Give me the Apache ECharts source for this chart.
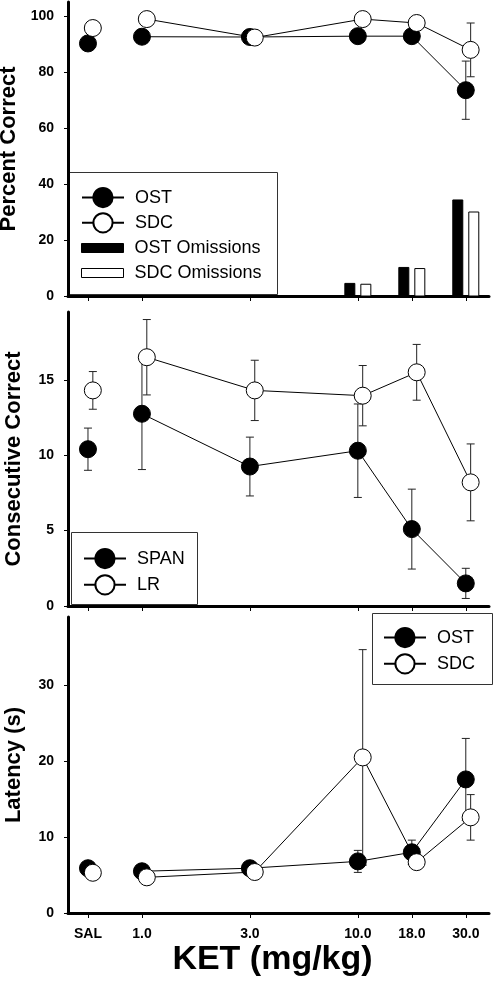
<!DOCTYPE html>
<html><head><meta charset="utf-8">
<script src="https://cdn.jsdelivr.net/npm/echarts@6/dist/echarts.min.js"></script>
<style>html,body{margin:0;padding:0;background:#fff}#c{width:494px;height:982px}</style>
</head><body><div id="c"></div>
<script>
// ---- data ----
const doseLabels = ['SAL', '1.0', '3.0', '10.0', '18.0', '30.0'];
const doseSlots = [0, 1, 3, 5, 6, 7];          // spacing of the dose groups on the original x axis
const pctTicks = [0, 20, 40, 60, 80, 100];
const consTicks = [0, 5, 10, 15];
const latTicks = [0, 10, 20, 30];

const ostPct = [90.2, 92.6, 92.5, 92.8, 92.8, 73.5];
const ostPctErr = [0, 0, 0, 0, 0, 10.4];
const sdcPct = [95.7, 98.9, 92.3, 98.9, 97.5, 87.9];
const sdcPctErr = [0, 0, 0, 0, 0, 9.6];
const ostOmit = [0, 0, 0, 4.5, 10.2, 34.3];
const sdcOmit = [0, 0, 0, 4.2, 9.8, 30.0];

const spanVal = [10.4, 12.75, 9.25, 10.3, 5.1, 1.5];
const spanErr = [1.4, 3.7, 1.95, 3.1, 2.65, 1.0];
const lrVal = [14.3, 16.5, 14.3, 13.95, 15.5, 8.2];
const lrErr = [1.25, 2.5, 2.0, 2.0, 1.85, 2.55];

const ostLat = [5.9, 5.5, 5.9, 6.8, 8.0, 17.6];
const ostLatErr = [0.3, 0.3, 0.3, 1.45, 1.6, 5.4];
const sdcLat = [5.3, 4.7, 5.4, 20.5, 6.7, 12.6];
const sdcLatErr = [0.3, 0.3, 0.3, 14.2, 0.5, 3.0];

// ---- helpers ----
const FONT = 'Liberation Sans, Arial, sans-serif';
const OPEN_SHIFT = 0.09;
const pts = (vals, shift, from) => vals.map((v, i) => [doseSlots[i] + shift, v]).slice(from);
const errPts = (vals, errs, shift) => vals.map((v, i) => [doseSlots[i] + shift, v, errs[i]]);

const filledStyle = { color: '#000', borderColor: '#000', borderWidth: 1, opacity: 1 };
const openStyle = { color: '#fff', borderColor: '#000', borderWidth: 1, opacity: 1 };

function lineSeries(name, vals, shift, style, ax, z) {
  return [
    { type: 'line', name, xAxisIndex: ax, yAxisIndex: ax, data: pts(vals, shift, 1),
      symbol: 'circle', symbolSize: 17, itemStyle: style,
      lineStyle: { color: '#000', width: 1 }, z, animation: false },
    { type: 'scatter', name, xAxisIndex: ax, yAxisIndex: ax, data: pts(vals, shift, 0).slice(0, 1),
      symbol: 'circle', symbolSize: 17, itemStyle: style, z, animation: false }
  ];
}
function errSeries(vals, errs, shift, ax) {
  return { type: 'custom', xAxisIndex: ax, yAxisIndex: ax, data: errPts(vals, errs, shift),
    encode: { x: 0, y: 1 }, z: 1, animation: false, silent: true,
    renderItem(params, api) {
      const x = api.value(0), y = api.value(1), e = api.value(2);
      if (!e) return null;
      const t = api.coord([x, y + e]), b = api.coord([x, y - e]);
      const st = { stroke: '#222', lineWidth: 1 };
      return { type: 'group', children: [
        { type: 'line', shape: { x1: t[0], y1: t[1], x2: b[0], y2: b[1] }, style: st },
        { type: 'line', shape: { x1: t[0] - 4, y1: t[1], x2: t[0] + 4, y2: t[1] }, style: st },
        { type: 'line', shape: { x1: b[0] - 4, y1: b[1], x2: b[0] + 4, y2: b[1] }, style: st }
      ]};
    } };
}
function barSeries(name, vals, offsetPx, fill) {
  return { type: 'custom', name, xAxisIndex: 0, yAxisIndex: 0,
    data: vals.map((v, i) => [doseSlots[i], v]), encode: { x: 0, y: 1 }, z: 2, animation: false,
    itemStyle: { color: fill, borderColor: '#000', borderWidth: 1 },
    renderItem(params, api) {
      const x = api.value(0), v = api.value(1);
      if (!v) return null;
      const top = api.coord([x, v]), base = api.coord([x, 0]);
      return { type: 'rect', shape: { x: top[0] + offsetPx - 5, y: top[1], width: 10, height: base[1] - top[1] },
        style: { fill, stroke: '#000', lineWidth: 1 } };
    } };
}

const grids = [
  { left: 68, width: 421, top: 2, height: 294, outerBoundsMode: 'none', containLabel: false },
  { left: 68, width: 421, top: 312, height: 294, outerBoundsMode: 'none', containLabel: false },
  { left: 68, width: 421, top: 617, height: 296, outerBoundsMode: 'none', containLabel: false }
];
function xAxis(i, showLabels) {
  return { type: 'value', gridIndex: i, min: -0.37, max: 7.43,
    axisLine: { show: true, onZero: false, lineStyle: { color: '#000', width: 3 } },
    axisTick: { show: true, inside: false, length: 5, customValues: doseSlots, lineStyle: { color: '#000', width: 1 } },
    axisLabel: { show: showLabels, customValues: doseSlots, margin: 14,
      formatter: v => doseLabels[doseSlots.indexOf(v)],
      fontFamily: FONT, fontWeight: 'bold', fontSize: 14, color: '#000' },
    splitLine: { show: false },
    name: showLabels ? 'KET (mg/kg)' : '', nameLocation: 'middle', nameGap: 30,
    nameTextStyle: { fontFamily: FONT, fontWeight: 'bold', fontSize: 34, color: '#000', padding: [0, 12, 0, 0] } };
}
function yAxis(i, max, ticks, name) {
  return { type: 'value', gridIndex: i, min: 0, max,
    axisLine: { show: true, onZero: false, lineStyle: { color: '#000', width: 3 } },
    axisTick: { show: true, length: 4, customValues: ticks, lineStyle: { color: '#000', width: 1 } },
    axisLabel: { customValues: ticks, margin: 14, fontFamily: FONT, fontWeight: 'bold', fontSize: 14, color: '#000' },
    splitLine: { show: false },
    name, nameLocation: 'middle', nameRotate: 90, nameGap: 43,
    nameTextStyle: { fontFamily: FONT, fontWeight: 'bold', fontSize: 22, color: '#000' } };
}
const legTxt = { fontFamily: FONT, fontSize: 18, color: '#000', padding: [0, 0, 0, 6] };
function legend(data, left, top, h, gap) {
  return { data, orient: 'vertical', left, top, itemWidth: 42, itemHeight: h, itemGap: gap,
    selectedMode: false, textStyle: legTxt, padding: 0 };
}

const option = {
  backgroundColor: '#fff',
  animation: false,
  grid: grids,
  xAxis: [xAxis(0, false), xAxis(1, false), xAxis(2, true)],
  yAxis: [yAxis(0, 105, pctTicks, 'Percent Correct'), yAxis(1, 19.5, consTicks, 'Consecutive Correct'), yAxis(2, 39, latTicks, 'Latency (s)')],
  legend: [
    legend(['OST', 'SDC'], 81, 187, 24, 4),
    legend([
      { name: 'OST Omissions', icon: 'rect', itemStyle: { color: '#000', borderColor: '#000', borderWidth: 1 } },
      { name: 'SDC Omissions', icon: 'rect', itemStyle: { color: '#fff', borderColor: '#000', borderWidth: 1 } }
    ], 81, 239, 9, 7),
    legend(['SPAN', 'LR'], 83, 548, 24, 5),
    legend(['OST', 'SDC'], 383, 627, 24, 5)
  ],
  graphic: [
    { type: 'rect', shape: { x: 69.5, y: 172.5, width: 208, height: 122 }, style: { fill: 'none', stroke: '#333', lineWidth: 1 }, z: 0 },
    { type: 'rect', shape: { x: 71.5, y: 532.5, width: 126, height: 72 }, style: { fill: 'none', stroke: '#333', lineWidth: 1 }, z: 0 },
    { type: 'rect', shape: { x: 372.5, y: 613.5, width: 120, height: 71 }, style: { fill: 'none', stroke: '#333', lineWidth: 1 }, z: 0 }
  ],
  series: [
    errSeries(ostPct, ostPctErr, 0, 0),
    errSeries(sdcPct, sdcPctErr, OPEN_SHIFT, 0),
    ...lineSeries('OST', ostPct, 0, filledStyle, 0, 2),
    ...lineSeries('SDC', sdcPct, OPEN_SHIFT, openStyle, 0, 3),
    barSeries('OST Omissions', ostOmit, -8, '#000'),
    barSeries('SDC Omissions', sdcOmit, 8, '#fff'),

    errSeries(spanVal, spanErr, 0, 1),
    errSeries(lrVal, lrErr, OPEN_SHIFT, 1),
    ...lineSeries('SPAN', spanVal, 0, filledStyle, 1, 2),
    ...lineSeries('LR', lrVal, OPEN_SHIFT, openStyle, 1, 3),

    errSeries(ostLat, ostLatErr, 0, 2),
    errSeries(sdcLat, sdcLatErr, OPEN_SHIFT, 2),
    ...lineSeries('OST', ostLat, 0, filledStyle, 2, 2),
    ...lineSeries('SDC', sdcLat, OPEN_SHIFT, openStyle, 2, 3)
  ]
};
echarts.init(document.getElementById('c'), null, { renderer: 'canvas' }).setOption(option);
</script></body></html>
